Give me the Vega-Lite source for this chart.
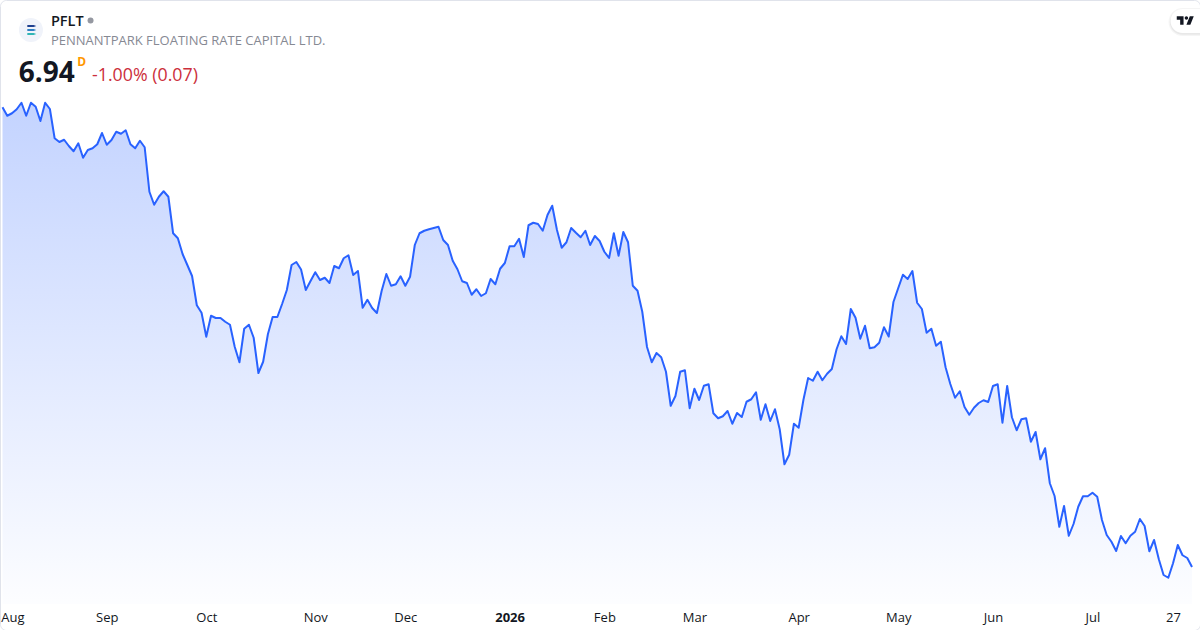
{
"$schema":"https://vega.github.io/schema/vega-lite/v6.json",
"width":1200,"height":630,"padding":0,"autosize":{"type":"none"},
"background":"#ffffff",
"view":{"stroke":"#e0e3eb","strokeWidth":1,"cornerRadius":6,"fill":null},
"datasets":{"prices":[
{"date":"2025-07-31","price":10.618},{"date":"2025-08-01","price":10.55},{"date":"2025-08-04","price":10.57},{"date":"2025-08-05","price":10.602},{"date":"2025-08-06","price":10.654},{"date":"2025-08-07","price":10.55},{"date":"2025-08-08","price":10.654},
{"date":"2025-08-11","price":10.622},{"date":"2025-08-12","price":10.508},{"date":"2025-08-13","price":10.654},{"date":"2025-08-14","price":10.604},{"date":"2025-08-15","price":10.37},
{"date":"2025-08-18","price":10.34},{"date":"2025-08-19","price":10.358},{"date":"2025-08-20","price":10.308},{"date":"2025-08-21","price":10.266},{"date":"2025-08-22","price":10.33},
{"date":"2025-08-25","price":10.214},{"date":"2025-08-26","price":10.276},{"date":"2025-08-27","price":10.29},{"date":"2025-08-28","price":10.322},{"date":"2025-08-29","price":10.412},
{"date":"2025-09-02","price":10.318},{"date":"2025-09-03","price":10.356},{"date":"2025-09-04","price":10.422},{"date":"2025-09-05","price":10.406},
{"date":"2025-09-08","price":10.434},{"date":"2025-09-09","price":10.322},{"date":"2025-09-10","price":10.29},{"date":"2025-09-11","price":10.35},{"date":"2025-09-12","price":10.298},
{"date":"2025-09-15","price":9.942},{"date":"2025-09-16","price":9.838},{"date":"2025-09-17","price":9.902},{"date":"2025-09-18","price":9.946},{"date":"2025-09-19","price":9.902},
{"date":"2025-09-22","price":9.61},{"date":"2025-09-23","price":9.57},{"date":"2025-09-24","price":9.444},{"date":"2025-09-25","price":9.356},{"date":"2025-09-26","price":9.268},
{"date":"2025-09-29","price":9.034},{"date":"2025-09-30","price":8.974},{"date":"2025-10-01","price":8.782},{"date":"2025-10-02","price":8.95},{"date":"2025-10-03","price":8.932},
{"date":"2025-10-06","price":8.932},{"date":"2025-10-07","price":8.902},{"date":"2025-10-08","price":8.878},{"date":"2025-10-09","price":8.702},{"date":"2025-10-10","price":8.578},
{"date":"2025-10-13","price":8.846},{"date":"2025-10-14","price":8.878},{"date":"2025-10-15","price":8.774},{"date":"2025-10-16","price":8.492},{"date":"2025-10-17","price":8.582},
{"date":"2025-10-20","price":8.802},{"date":"2025-10-21","price":8.94},{"date":"2025-10-22","price":8.94},{"date":"2025-10-23","price":9.044},{"date":"2025-10-24","price":9.156},
{"date":"2025-10-27","price":9.356},{"date":"2025-10-28","price":9.38},{"date":"2025-10-29","price":9.32},{"date":"2025-10-30","price":9.156},{"date":"2025-10-31","price":9.228},
{"date":"2025-11-03","price":9.298},{"date":"2025-11-04","price":9.236},{"date":"2025-11-05","price":9.254},{"date":"2025-11-06","price":9.212},{"date":"2025-11-07","price":9.348},
{"date":"2025-11-10","price":9.33},{"date":"2025-11-11","price":9.41},{"date":"2025-11-12","price":9.434},{"date":"2025-11-13","price":9.276},{"date":"2025-11-14","price":9.308},
{"date":"2025-11-17","price":9.014},{"date":"2025-11-18","price":9.078},{"date":"2025-11-19","price":9.012},{"date":"2025-11-20","price":8.972},{"date":"2025-11-21","price":9.148},
{"date":"2025-11-24","price":9.284},{"date":"2025-11-25","price":9.19},{"date":"2025-11-26","price":9.202},{"date":"2025-11-28","price":9.266},
{"date":"2025-12-01","price":9.19},{"date":"2025-12-02","price":9.262},{"date":"2025-12-03","price":9.516},{"date":"2025-12-04","price":9.61},{"date":"2025-12-05","price":9.63},
{"date":"2025-12-08","price":9.642},{"date":"2025-12-09","price":9.652},{"date":"2025-12-10","price":9.662},{"date":"2025-12-11","price":9.556},{"date":"2025-12-12","price":9.516},
{"date":"2025-12-15","price":9.39},{"date":"2025-12-16","price":9.322},{"date":"2025-12-17","price":9.226},{"date":"2025-12-18","price":9.212},{"date":"2025-12-19","price":9.118},
{"date":"2025-12-22","price":9.162},{"date":"2025-12-23","price":9.108},{"date":"2025-12-24","price":9.13},{"date":"2025-12-26","price":9.244},
{"date":"2025-12-29","price":9.202},{"date":"2025-12-30","price":9.326},{"date":"2025-12-31","price":9.372},{"date":"2026-01-02","price":9.506},
{"date":"2026-01-05","price":9.506},{"date":"2026-01-06","price":9.566},{"date":"2026-01-07","price":9.42},{"date":"2026-01-08","price":9.674},{"date":"2026-01-09","price":9.694},
{"date":"2026-01-12","price":9.684},{"date":"2026-01-13","price":9.63},{"date":"2026-01-14","price":9.756},{"date":"2026-01-15","price":9.83},{"date":"2026-01-16","price":9.636},
{"date":"2026-01-20","price":9.494},{"date":"2026-01-21","price":9.538},{"date":"2026-01-22","price":9.652},{"date":"2026-01-23","price":9.614},
{"date":"2026-01-26","price":9.578},{"date":"2026-01-27","price":9.63},{"date":"2026-01-28","price":9.516},{"date":"2026-01-29","price":9.588},{"date":"2026-01-30","price":9.548},
{"date":"2026-02-02","price":9.462},{"date":"2026-02-03","price":9.412},{"date":"2026-02-04","price":9.61},{"date":"2026-02-05","price":9.43},{"date":"2026-02-06","price":9.62},
{"date":"2026-02-09","price":9.538},{"date":"2026-02-10","price":9.19},{"date":"2026-02-11","price":9.15},{"date":"2026-02-12","price":8.982},{"date":"2026-02-13","price":8.7},
{"date":"2026-02-17","price":8.578},{"date":"2026-02-18","price":8.652},{"date":"2026-02-19","price":8.618},{"date":"2026-02-20","price":8.502},
{"date":"2026-02-23","price":8.23},{"date":"2026-02-24","price":8.308},{"date":"2026-02-25","price":8.502},{"date":"2026-02-26","price":8.514},{"date":"2026-02-27","price":8.21},
{"date":"2026-03-02","price":8.366},{"date":"2026-03-03","price":8.276},{"date":"2026-03-04","price":8.39},{"date":"2026-03-05","price":8.402},{"date":"2026-03-06","price":8.17},
{"date":"2026-03-09","price":8.13},{"date":"2026-03-10","price":8.146},{"date":"2026-03-11","price":8.188},{"date":"2026-03-12","price":8.086},{"date":"2026-03-13","price":8.172},
{"date":"2026-03-16","price":8.14},{"date":"2026-03-17","price":8.262},{"date":"2026-03-18","price":8.282},{"date":"2026-03-19","price":8.338},{"date":"2026-03-20","price":8.118},
{"date":"2026-03-23","price":8.242},{"date":"2026-03-24","price":8.108},{"date":"2026-03-25","price":8.202},{"date":"2026-03-26","price":8.042},{"date":"2026-03-27","price":7.762},
{"date":"2026-03-30","price":7.838},{"date":"2026-03-31","price":8.086},{"date":"2026-04-01","price":8.054},{"date":"2026-04-02","price":8.276},
{"date":"2026-04-06","price":8.452},{"date":"2026-04-07","price":8.43},{"date":"2026-04-08","price":8.502},{"date":"2026-04-09","price":8.434},{"date":"2026-04-10","price":8.486},
{"date":"2026-04-13","price":8.524},{"date":"2026-04-14","price":8.682},{"date":"2026-04-15","price":8.786},{"date":"2026-04-16","price":8.724},{"date":"2026-04-17","price":9.004},
{"date":"2026-04-20","price":8.934},{"date":"2026-04-21","price":8.766},{"date":"2026-04-22","price":8.87},{"date":"2026-04-23","price":8.69},{"date":"2026-04-24","price":8.698},
{"date":"2026-04-27","price":8.734},{"date":"2026-04-28","price":8.858},{"date":"2026-04-29","price":8.784},{"date":"2026-04-30","price":9.06},{"date":"2026-05-01","price":9.17},
{"date":"2026-05-04","price":9.278},{"date":"2026-05-05","price":9.244},{"date":"2026-05-06","price":9.308},{"date":"2026-05-07","price":9.054},{"date":"2026-05-08","price":9.004},
{"date":"2026-05-11","price":8.814},{"date":"2026-05-12","price":8.846},{"date":"2026-05-13","price":8.71},{"date":"2026-05-14","price":8.742},{"date":"2026-05-15","price":8.538},
{"date":"2026-05-18","price":8.404},{"date":"2026-05-19","price":8.294},{"date":"2026-05-20","price":8.346},{"date":"2026-05-21","price":8.22},{"date":"2026-05-22","price":8.158},
{"date":"2026-05-26","price":8.214},{"date":"2026-05-27","price":8.252},{"date":"2026-05-28","price":8.274},{"date":"2026-05-29","price":8.26},
{"date":"2026-06-01","price":8.388},{"date":"2026-06-02","price":8.402},{"date":"2026-06-03","price":8.094},{"date":"2026-06-04","price":8.388},{"date":"2026-06-05","price":8.138},
{"date":"2026-06-08","price":8.034},{"date":"2026-06-09","price":8.122},{"date":"2026-06-10","price":8.13},{"date":"2026-06-11","price":7.942},{"date":"2026-06-12","price":8.02},
{"date":"2026-06-15","price":7.802},{"date":"2026-06-16","price":7.89},{"date":"2026-06-17","price":7.61},{"date":"2026-06-18","price":7.508},
{"date":"2026-06-22","price":7.262},{"date":"2026-06-23","price":7.428},{"date":"2026-06-24","price":7.19},{"date":"2026-06-25","price":7.284},{"date":"2026-06-26","price":7.422},
{"date":"2026-06-29","price":7.506},{"date":"2026-06-30","price":7.506},{"date":"2026-07-01","price":7.534},{"date":"2026-07-02","price":7.502},
{"date":"2026-07-06","price":7.316},{"date":"2026-07-07","price":7.196},{"date":"2026-07-08","price":7.142},{"date":"2026-07-09","price":7.068},{"date":"2026-07-10","price":7.188},
{"date":"2026-07-13","price":7.13},{"date":"2026-07-14","price":7.19},{"date":"2026-07-15","price":7.222},{"date":"2026-07-16","price":7.324},{"date":"2026-07-17","price":7.268},
{"date":"2026-07-20","price":7.066},{"date":"2026-07-21","price":7.156},{"date":"2026-07-22","price":7.002},{"date":"2026-07-23","price":6.876},{"date":"2026-07-24","price":6.854},
{"date":"2026-07-27","price":6.97},{"date":"2026-07-28","price":7.116},{"date":"2026-07-29","price":7.034},{"date":"2026-07-30","price":7.012},{"date":"2026-07-31","price":6.94}
]},
"layer":[
{"data":{"name":"prices"},
 "mark":{"type":"area","color":{"gradient":"linear","x1":0,"y1":0,"x2":0,"y2":1,"stops":[{"offset":0,"color":"rgba(41,98,255,0.28)"},{"offset":1,"color":"rgba(41,98,255,0.01)"}]}},
 "encoding":{
  "x":{"field":"date","type":"ordinal","title":null,
   "scale":{"type":"point","padding":0,"range":[2.5,1192]},
   "axis":{"orient":"bottom","offset":-26,"domain":false,"ticks":false,"grid":false,"labelAngle":0,"labelPadding":7,"labelOverlap":false,
    "labelFont":"Open Sans","labelFontSize":13,"labelColor":"#131722","labelFlush":10,"labelFlushOffset":6.5,
    "labelFontWeight":{"condition":{"test":"datum.value == '2026-01-02'","value":"bold"},"value":"normal"},
    "values":["2025-08-01","2025-09-02","2025-10-01","2025-11-03","2025-12-01","2026-01-02","2026-02-02","2026-03-02","2026-04-01","2026-05-01","2026-06-01","2026-07-01","2026-07-27"],
    "labelExpr":"datum.value == '2026-01-02' ? '2026' : datum.value == '2026-07-27' ? '27' : utcFormat(toDate(datum.value), '%b')"}},
  "y":{"field":"price","type":"quantitative","title":null,"axis":null,"scale":{"domain":[6.436,11.476],"nice":false,"zero":false}},
  "y2":{"datum":6.644}
 }},
{"data":{"name":"prices"},
 "mark":{"type":"line","color":"#2962ff","strokeWidth":2,"strokeJoin":"round"},
 "encoding":{"x":{"field":"date","type":"ordinal"},"y":{"field":"price","type":"quantitative"}}},
{"data":{"values":[{"part":"logo"}]},
 "mark":{"type":"point","filled":true,"opacity":1,"shape":"circle","size":576,"color":"#f0f3fa"},
 "encoding":{"x":{"datum":"2025-08-08","type":"ordinal"},"y":{"datum":11.236}}},
{"data":{"values":[{"part":"stripe 1"}]},
 "mark":{"type":"point","filled":true,"opacity":1,"shape":"M-0.4 -0.1 L0.3 -0.1 L0.6 0 L0.3 0.1 L-0.4 0.1Z","size":324,"color":"#1e3f8f"},
 "encoding":{"x":{"datum":"2025-08-08","type":"ordinal"},"y":{"datum":11.268}}},
{"data":{"values":[{"part":"stripe 2"}]},
 "mark":{"type":"point","filled":true,"opacity":1,"shape":"M-0.4 -0.1 L0.3 -0.1 L0.6 0 L0.3 0.1 L-0.4 0.1Z","size":324,"color":"#2f7fc4"},
 "encoding":{"x":{"datum":"2025-08-08","type":"ordinal"},"y":{"datum":11.236}}},
{"data":{"values":[{"part":"stripe 3"}]},
 "mark":{"type":"point","filled":true,"opacity":1,"shape":"M-0.4 -0.1 L0.3 -0.1 L0.6 0 L0.3 0.1 L-0.4 0.1Z","size":324,"color":"#2fb5b5"},
 "encoding":{"x":{"datum":"2025-08-08","type":"ordinal"},"y":{"datum":11.204}}},
{"data":{"values":[{"text":"PFLT"}]},
 "mark":{"type":"text","align":"left","baseline":"alphabetic","dx":1,"font":"Open Sans","fontSize":14.5,"fontWeight":600,"color":"#131722"},
 "encoding":{"x":{"datum":"2025-08-14","type":"ordinal"},"y":{"datum":11.268},"text":{"field":"text"}}},
{"data":{"values":[{"part":"status"}]},
 "mark":{"type":"point","filled":true,"opacity":1,"shape":"circle","size":36,"color":"#9598a1"},
 "encoding":{"x":{"datum":"2025-08-27","type":"ordinal"},"xOffset":{"value":-2},"y":{"datum":11.312}}},
{"data":{"values":[{"text":"PENNANTPARK FLOATING RATE CAPITAL LTD."}]},
 "mark":{"type":"text","align":"left","baseline":"alphabetic","dx":1,"font":"Open Sans","fontSize":13,"color":"#868993"},
 "encoding":{"x":{"datum":"2025-08-14","type":"ordinal"},"y":{"datum":11.116},"text":{"field":"text"}}},
{"data":{"values":[{"text":"6.94"}]},
 "mark":{"type":"text","align":"left","baseline":"alphabetic","dx":2,"font":"Open Sans","fontSize":28,"fontWeight":700,"color":"#131722"},
 "encoding":{"x":{"datum":"2025-08-05","type":"ordinal"},"y":{"datum":10.82},"text":{"field":"text"}}},
{"data":{"values":[{"text":"D"}]},
 "mark":{"type":"text","align":"left","baseline":"alphabetic","dx":-1,"font":"Open Sans","fontSize":12,"fontWeight":700,"color":"#ff9800"},
 "encoding":{"x":{"datum":"2025-08-22","type":"ordinal"},"y":{"datum":10.948},"text":{"field":"text"}}},
{"data":{"values":[{"text":"-1.00% (0.07)"}]},
 "mark":{"type":"text","align":"left","baseline":"alphabetic","dx":-0.5,"font":"Open Sans","fontSize":17.8,"color":"#cc2f3c"},
 "encoding":{"x":{"datum":"2025-08-27","type":"ordinal"},"y":{"datum":10.828},"text":{"field":"text"}}},
{"data":{"values":[{"part":"badge shadow"}]},
 "mark":{"type":"point","filled":true,"opacity":0.04,"shape":"M0 -0.5 H1.5 V0.5 H0 A0.5 0.5 0 0 1 0 -0.5Z","size":3136,"color":"#000000"},
 "encoding":{"x":{"datum":"2026-07-29","type":"ordinal"},"y":{"datum":11.3}}},
{"data":{"values":[{"part":"badge shadow"}]},
 "mark":{"type":"point","filled":true,"opacity":0.05,"shape":"M0 -0.5 H1.5 V0.5 H0 A0.5 0.5 0 0 1 0 -0.5Z","size":2600,"color":"#000000"},
 "encoding":{"x":{"datum":"2026-07-29","type":"ordinal"},"y":{"datum":11.3}}},
{"data":{"values":[{"part":"badge"}]},
 "mark":{"type":"point","filled":true,"opacity":1,"shape":"M0 -0.5 H1.5 V0.5 H0 A0.5 0.5 0 0 1 0 -0.5Z","size":2304,"color":"#ffffff"},
 "encoding":{"x":{"datum":"2026-07-29","type":"ordinal"},"y":{"datum":11.308}}},
{"data":{"values":[{"part":"badge logo"}]},
 "mark":{"type":"point","filled":true,"opacity":1,"shape":"M-0.1 -0.25 H-0.5 V-0.05 H-0.3 V0.25 H-0.1Z M0.3 0.25 H0.067 L0.267 -0.25 H0.5Z M0.167 -0.15 A0.1 0.1 0 1 0 -0.033 -0.15 A0.1 0.1 0 1 0 0.167 -0.15Z","size":1156,"color":"#131722"},
 "encoding":{"x":{"datum":"2026-07-30","type":"ordinal"},"xOffset":{"value":-2},"y":{"datum":11.312}}}
]
}
